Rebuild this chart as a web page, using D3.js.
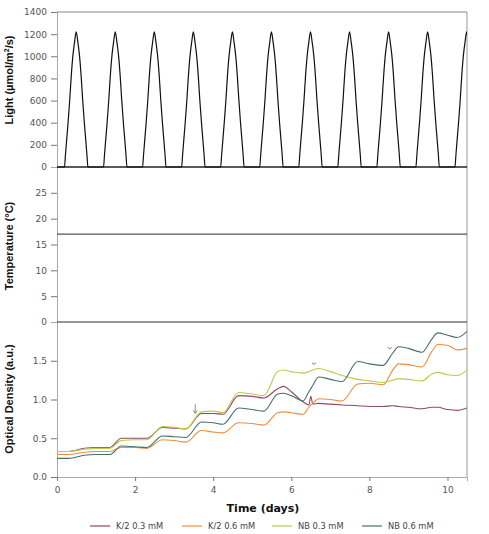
<!DOCTYPE html>
<html>
<head>
<meta charset="utf-8">
<script src="https://cdn.jsdelivr.net/npm/d3@7"></script>
<style>
  body { margin: 0; background: #fff; }
  text { font-family: "DejaVu Sans", sans-serif; }
</style>
</head>
<body>
<svg id="chart" width="489" height="534"></svg>
<script>
// ---- data ----
// one day of the light regime (hour of day -> µmol/m2/s), same every day
const lightHours  = [0, 4.6, 5.2, 5.8, 6.8, 7.8, 8.8, 9.8, 10.8, 11.8, 12.8, 13.8, 14.8, 15.8, 16.8, 17.8, 18.4, 19.0, 24];
const lightValues = [0, 0, 110, 220, 400, 600, 830, 1010, 1130, 1220, 1130, 1010, 830, 600, 400, 220, 110, 0, 0];
const lightDays   = [0, 1, 2, 3, 4, 5, 6, 7, 8, 9, 10];

const tempDays   = [0, 10.5];
const tempValues = [17, 17];

const odDays = [0, 0.3, 0.7, 1.0, 1.35, 1.65, 2.0, 2.3, 2.7, 3.0, 3.3, 3.7, 4.0, 4.25, 4.65, 5.0, 5.3, 5.65, 5.8, 6.0,
                6.3, 6.45, 6.5, 6.55, 6.7, 7.0, 7.3, 7.7, 8.0, 8.35, 8.6, 8.75, 9.0, 9.35, 9.6, 9.75, 10.0, 10.25, 10.5];
const k2_03 = [0.33, 0.33, 0.37, 0.38, 0.38, 0.50, 0.50, 0.50, 0.64, 0.63, 0.62, 0.82, 0.82, 0.81, 1.05, 1.04, 1.02, 1.14, 1.17, 1.10,
               0.97, 0.93, 1.04, 0.94, 0.95, 0.94, 0.93, 0.92, 0.91, 0.91, 0.92, 0.91, 0.90, 0.88, 0.90, 0.90, 0.87, 0.86, 0.89];
const k2_06 = [0.29, 0.29, 0.32, 0.33, 0.33, 0.38, 0.38, 0.37, 0.48, 0.47, 0.45, 0.60, 0.58, 0.57, 0.70, 0.69, 0.67, 0.83, 0.84, 0.83,
               0.81, 0.90, 0.93, 0.95, 1.01, 1.00, 0.98, 1.20, 1.21, 1.19, 1.38, 1.46, 1.45, 1.42, 1.62, 1.71, 1.70, 1.64, 1.66];
const nb_03 = [0.33, 0.33, 0.36, 0.37, 0.37, 0.47, 0.48, 0.48, 0.65, 0.64, 0.62, 0.84, 0.85, 0.83, 1.09, 1.07, 1.05, 1.36, 1.38, 1.36,
               1.34, 1.36, 1.37, 1.38, 1.40, 1.36, 1.31, 1.26, 1.24, 1.22, 1.25, 1.27, 1.26, 1.24, 1.33, 1.35, 1.32, 1.31, 1.38];
const nb_06 = [0.24, 0.24, 0.28, 0.29, 0.29, 0.40, 0.39, 0.38, 0.53, 0.52, 0.51, 0.71, 0.70, 0.68, 0.89, 0.87, 0.85, 1.07, 1.08, 1.05,
               0.98, 1.10, 1.14, 1.18, 1.29, 1.26, 1.23, 1.49, 1.46, 1.44, 1.60, 1.68, 1.66, 1.61, 1.78, 1.86, 1.83, 1.80, 1.88];

const seriesNames  = ["K/2 0.3 mM", "K/2 0.6 mM", "NB 0.3 mM", "NB 0.6 mM"];
const seriesValues = [k2_03, k2_06, nb_03, nb_06];
const seriesColors = ["#8e4a66", "#f28c3a", "#bccb4a", "#46706b"];

const xTicks     = [0, 2, 4, 6, 8, 10];
const lightTicks = [0, 200, 400, 600, 800, 1000, 1200, 1400];
const tempTicks  = [0, 5, 10, 15, 20, 25];
const odTicks    = [0, 0.5, 1.0, 1.5];

// ---- layout ----
const svg = d3.select("#chart");
const left = 57, right = 467;
const x = d3.scaleLinear().domain([0, 10.5]).range([left, right]);
const yLight = d3.scaleLinear().domain([0, 1400]).range([167, 12]);
const yTemp  = d3.scaleLinear().domain([0, 30]).range([322, 167]);
const yOD    = d3.scaleLinear().domain([0, 2]).range([477, 322]);

svg.append("rect").attr("width", 489).attr("height", 534).attr("fill", "#fff");

svg.append("clipPath").attr("id", "clip")
  .append("rect").attr("x", left).attr("y", 10).attr("width", right - left).attr("height", 470);

// frame
svg.append("line").attr("x1", left).attr("x2", right).attr("y1", 12).attr("y2", 12)
  .attr("stroke", "#888").attr("stroke-width", 1);
svg.append("line").attr("x1", right).attr("x2", right).attr("y1", 12).attr("y2", 477)
  .attr("stroke", "#999").attr("stroke-width", 1);

function yAxis(scale, ticks, fmt) {
  const g = svg.append("g").attr("transform", `translate(${left},0)`)
    .call(d3.axisLeft(scale).tickValues(ticks).tickSize(6).tickPadding(4).tickFormat(fmt));
  g.select(".domain").attr("stroke", "#aaa");
  g.selectAll(".tick line").attr("stroke", "#777");
  g.selectAll(".tick text").attr("fill", "#555").style("font-size", "9px")
    .style("font-family", "DejaVu Sans, sans-serif");
  return g;
}
yAxis(yLight, lightTicks, d3.format("d"));
yAxis(yTemp, tempTicks, d3.format("d"));
yAxis(yOD, odTicks, d3.format(".1f"));

const gx = svg.append("g").attr("transform", "translate(0,477)")
  .call(d3.axisBottom(x).tickValues(xTicks).tickSize(4).tickPadding(6).tickFormat(d3.format("d")));
gx.select(".domain").attr("stroke", "#aaa");
gx.selectAll(".tick line").attr("stroke", "#777");
gx.selectAll(".tick text").attr("fill", "#555").style("font-size", "9px")
  .style("font-family", "DejaVu Sans, sans-serif");

// panel separators
svg.append("line").attr("x1", left).attr("x2", right).attr("y1", yLight(0)).attr("y2", yLight(0))
  .attr("stroke", "#222").attr("stroke-width", 1.3);
svg.append("line").attr("x1", left).attr("x2", right).attr("y1", yTemp(0)).attr("y2", yTemp(0))
  .attr("stroke", "#333").attr("stroke-width", 1.2);

// light
const lightPts = [];
lightDays.forEach(d => lightHours.forEach((h, i) => lightPts.push([d + h / 24, lightValues[i]])));
svg.append("path")
  .datum(lightPts)
  .attr("clip-path", "url(#clip)")
  .attr("fill", "none").attr("stroke", "#111").attr("stroke-width", 1.2)
  .attr("d", d3.line().x(d => x(d[0])).y(d => yLight(d[1])).curve(d3.curveMonotoneX));

// temperature
svg.append("path")
  .datum(tempDays.map((d, i) => [d, tempValues[i]]))
  .attr("fill", "none").attr("stroke", "#555").attr("stroke-width", 1.1)
  .attr("d", d3.line().x(d => x(d[0])).y(d => yTemp(d[1])));

// optical density
const odLine = d3.line().x((d, i) => x(odDays[i])).y(d => yOD(d)).curve(d3.curveMonotoneX);
seriesValues.forEach((vals, k) => {
  svg.append("path")
    .datum(vals)
    .attr("clip-path", "url(#clip)")
    .attr("fill", "none").attr("stroke", seriesColors[k]).attr("stroke-width", 1.1)
    .attr("d", odLine);
});

// small markers drawn on the original figure
const ax = x(3.54), ay0 = yOD(0.94), ay1 = yOD(0.82);
svg.append("path")
  .attr("d", `M${ax},${ay0} L${ax},${ay1} M${ax - 1.8},${ay1 - 3} L${ax},${ay1} L${ax + 1.8},${ay1 - 3}`)
  .attr("fill", "none").attr("stroke", "#777").attr("stroke-width", 0.8);
[[6.58, 1.46], [8.52, 1.66]].forEach(p => {
  svg.append("path")
    .attr("d", `M${x(p[0]) - 2},${yOD(p[1]) - 1} Q${x(p[0])},${yOD(p[1]) + 2} ${x(p[0]) + 2},${yOD(p[1]) - 1}`)
    .attr("fill", "none").attr("stroke", "#555").attr("stroke-width", 0.8);
});

// axis titles
function yTitle(label, cy) {
  svg.append("text")
    .attr("transform", `translate(13,${cy}) rotate(-90)`)
    .attr("text-anchor", "middle")
    .attr("fill", "#111").style("font-size", "11px").style("font-weight", "bold")
    .style("font-family", "Liberation Sans, Arial, sans-serif")
    .text(label);
}
const lt = svg.append("text")
  .attr("transform", "translate(13,80) rotate(-90)")
  .attr("text-anchor", "middle")
  .attr("fill", "#111").style("font-size", "11px").style("font-weight", "bold")
  .style("font-family", "Liberation Sans, Arial, sans-serif");
lt.append("tspan").text("Light (µmol/m");
lt.append("tspan").attr("dy", -4).style("font-size", "7px").text("2");
lt.append("tspan").attr("dy", 4).text("/s)");
yTitle("Temperature (°C)", 246);
yTitle("Optical Density (a.u.)", 399);

svg.append("text").attr("x", 263).attr("y", 512).attr("text-anchor", "middle")
  .attr("fill", "#111").style("font-size", "11px").style("font-weight", "bold")
  .text("Time (days)");

// legend
const legendX = [90, 182, 272, 362];
const legend = svg.append("g").selectAll("g").data(seriesNames).join("g")
  .attr("transform", (d, i) => `translate(${legendX[i]},526)`);
legend.append("line").attr("x1", 0).attr("x2", 20).attr("y1", 0).attr("y2", 0)
  .attr("stroke", (d, i) => seriesColors[i]).attr("stroke-width", 1.2);
legend.append("text").attr("x", 26).attr("y", 3).attr("fill", "#444")
  .style("font-size", "8.3px").text(d => d);
</script>
</body>
</html>
